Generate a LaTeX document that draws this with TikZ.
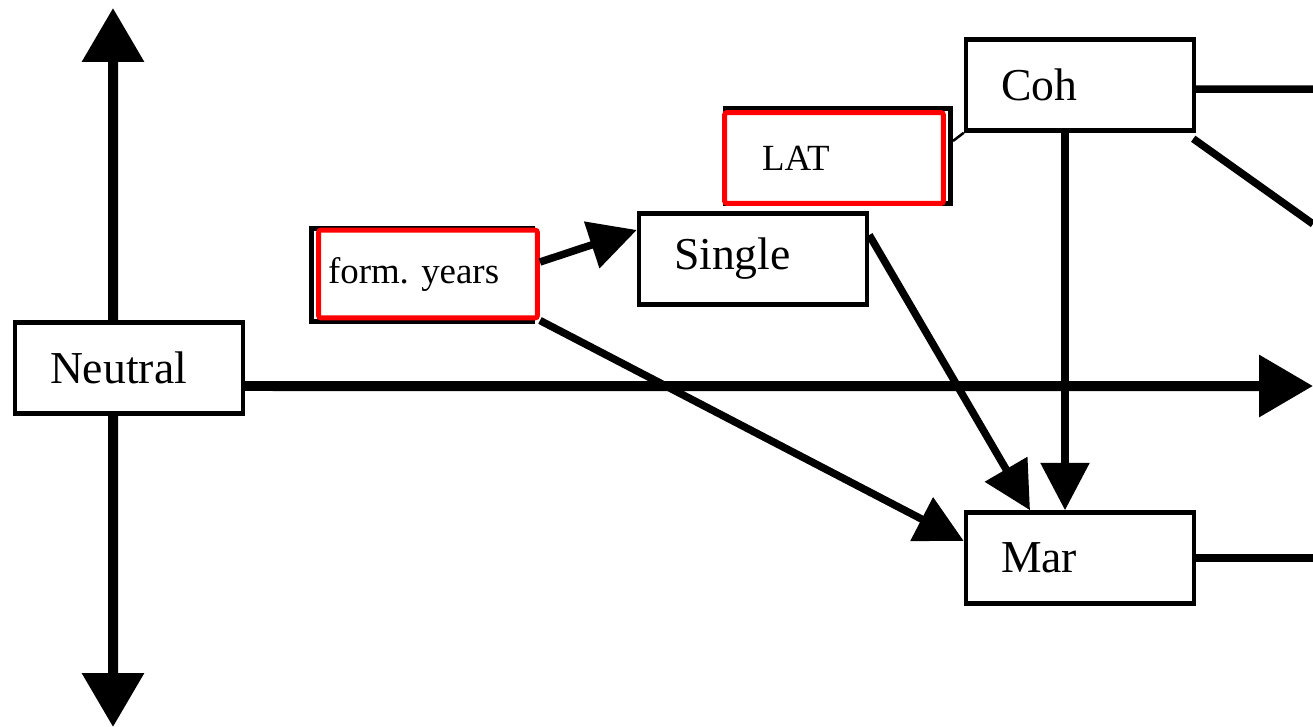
\documentclass[tikz,border=0pt]{standalone}
\usepackage{fontspec}
\setmainfont{Liberation Serif}
\usetikzlibrary{arrows.meta}
\frenchspacing

\begin{document}
\begin{tikzpicture}[x=0.02cm,y=-0.02cm,
  axis/.style={line width=0.2cm,-{Triangle[length=1.08cm,width=1.2cm]}},
  link/.style={line width=0.15cm,-{Triangle[length=0.95cm,width=0.95cm]}},
  plain/.style={line width=0.15cm},
  box/.style={draw,fill=white,line width=0.09cm,minimum height=1.82cm,text width=3.16cm,inner xsep=0.7cm,align=left,font=\fontsize{26}{30}\selectfont},
  backbox/.style={draw,line width=0.1cm,inner sep=0pt},
  redbox/.style={draw=red,fill=white,line width=0.1cm,rounded corners=1.5pt,minimum height=1.76cm,align=left,font=\fontsize{21}{25}\selectfont}]
\useasboundingbox (0,0) rectangle (1313,727);
% cajas
\node[box] (neutral) at (129,368) {Neutral};
\node[box] (single) at (753,259) {Single};
\node[box] (coh) at (1080,85) {Coh};
\node[box] (mar) at (1080,558) {Mar};
% cajas rojas con sombra negra
\node[backbox,minimum width=4.44cm,minimum height=1.88cm] (formback) at (422,275) {};
\node[redbox,text width=4.0cm,inner xsep=0.19cm] (form) at (428,274) {form. years};
\node[backbox,minimum width=4.5cm,minimum height=1.92cm] (latback) at (838,156) {};
\node[redbox,text width=2.88cm,inner xsep=0.75cm,minimum height=1.82cm] (lat) at (834,158) {LAT};
% puntos fuera del cuadro
\coordinate (top) at (113,8);
\coordinate (bottom) at (113,727);
\coordinate (right) at (1313,386);
\coordinate (cohout) at (1313,89);
\coordinate (cohdiag) at (1313,224);
\coordinate (marout) at (1313,558);
% ejes
\draw[axis] ([xshift=-0.32cm]neutral.north) -- (top);
\draw[axis] ([xshift=-0.32cm]neutral.south) -- (bottom);
\draw[axis] ([yshift=-0.36cm]neutral.east) -- (right);
% flechas
\draw[link] ([yshift=0.24cm]form.east) -- ([yshift=0.58cm]single.west);
\draw[link] (form.south east) -- ([yshift=0.34cm]mar.west);
\draw[link] ([yshift=0.48cm]single.east) -- ([xshift=-1cm]mar.north);
\draw[link] ([xshift=-0.3cm]coh.south) -- ([xshift=-0.3cm]mar.north);
% lineas a la derecha
\draw[plain] ([yshift=-0.08cm]coh.east) -- (cohout);
\draw[plain] ([shift={(-0.06cm,-0.12cm)}]coh.south east) -- (cohdiag);
\draw[plain] (mar.east) -- (marout);
\draw[line width=0.05cm] ([yshift=0.3cm]latback.east) -- (coh.south west);
\end{tikzpicture}
\end{document}
